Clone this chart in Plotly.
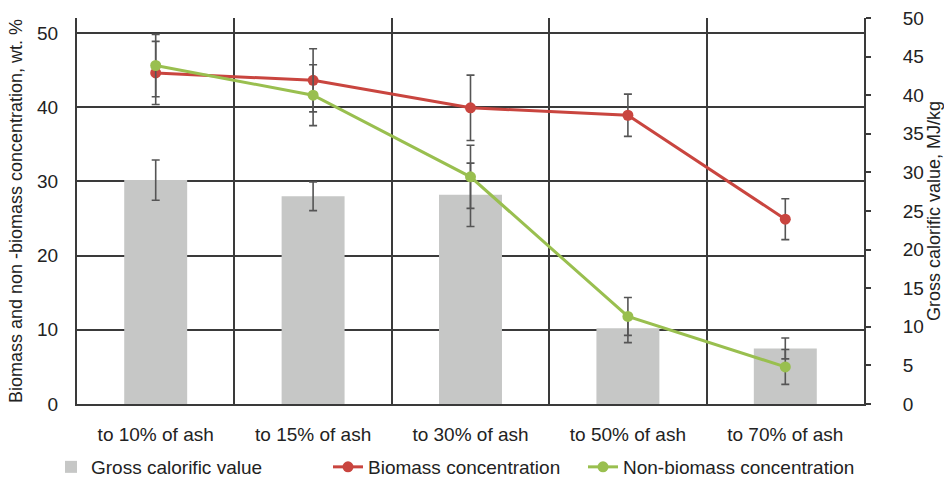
import plotly.graph_objects as go

categories = ["to 10% of ash", "to 15% of ash", "to 30% of ash", "to 50% of ash", "to 70% of ash"]
gross_calorific = [29.0, 26.9, 27.1, 9.8, 7.2]
gross_calorific_err = [2.6, 1.85, 4.1, 1.85, 1.35]
biomass = [44.6, 43.6, 39.9, 38.9, 24.9]
biomass_err = [4.25, 4.25, 4.4, 2.85, 2.75]
non_biomass = [45.6, 41.6, 30.6, 11.8, 5.0]
non_biomass_err = [4.2, 4.1, 4.25, 2.55, 2.35]

FONT = "Liberation Sans, Arial, sans-serif"
ERR_COLOR = "#555555"
GRID = "#3a3a3a"

fig = go.Figure()
fig.add_trace(go.Bar(
    x=categories, y=gross_calorific, name="Gross calorific value",
    marker=dict(color="#C6C7C6", line=dict(width=0)),
    error_y=dict(type="data", array=gross_calorific_err, color=ERR_COLOR, thickness=1.6, width=4),
    yaxis="y", legend="legend",
))
fig.add_trace(go.Scatter(
    x=categories, y=biomass, name="Biomass concentration", mode="lines+markers",
    line=dict(color="#C9453F", width=3), marker=dict(color="#C9453F", size=11),
    error_y=dict(type="data", array=biomass_err, color=ERR_COLOR, thickness=1.6, width=4),
    yaxis="y2", legend="legend2",
))
fig.add_trace(go.Scatter(
    x=categories, y=non_biomass, name="Non-biomass concentration", mode="lines+markers",
    line=dict(color="#99BF4F", width=3), marker=dict(color="#99BF4F", size=11),
    error_y=dict(type="data", array=non_biomass_err, color=ERR_COLOR, thickness=1.6, width=4),
    yaxis="y2", legend="legend3",
))

def leg(xpx):
    return dict(orientation="h", xref="container", yref="container",
                x=xpx / 944, xanchor="left", y=1 - 467 / 480, yanchor="middle",
                font=dict(size=19), bgcolor="rgba(0,0,0,0)")

fig.update_layout(
    width=944, height=480,
    margin=dict(l=77, r=80, t=18, b=76),
    paper_bgcolor="white", plot_bgcolor="white",
    font=dict(family=FONT, size=19, color="#222222"),
    bargap=0.6,
    showlegend=True,
    legend=leg(51), legend2=leg(328), legend3=leg(583),
    xaxis=dict(
        type="category", tickson="boundaries", showgrid=True, gridcolor=GRID, gridwidth=1.5,
        showline=True, linecolor=GRID, linewidth=2, ticks="", ticklabelstandoff=12,
        tickfont=dict(size=19), range=[-0.5, 4.5], automargin=False,
    ),
    yaxis=dict(
        side="right", range=[0, 50], dtick=5, showgrid=False, zeroline=False,
        showline=True, linecolor=GRID, linewidth=2, ticks="outside", ticklen=5,
        tickcolor=GRID, tickwidth=1.5, tickfont=dict(size=19), ticklabelstandoff=28,
        automargin=False,
        title=dict(text="Gross calorific value, MJ/kg", font=dict(size=18), standoff=4),
    ),
    yaxis2=dict(
        side="left", overlaying="y", range=[0, 52], tickvals=[0, 10, 20, 30, 40, 50],
        showgrid=True, gridcolor=GRID, gridwidth=1.5, zeroline=False,
        showline=True, linecolor=GRID, linewidth=2, ticks="", tickfont=dict(size=19),
        ticklabelstandoff=13, automargin=False,
        title=dict(text="Biomass and non -biomass concentration, wt. %", font=dict(size=18), standoff=10),
    ),
)

fig.write_html("out.html", config={"displayModeBar": False},
               post_script="document.body.style.margin='0';")
